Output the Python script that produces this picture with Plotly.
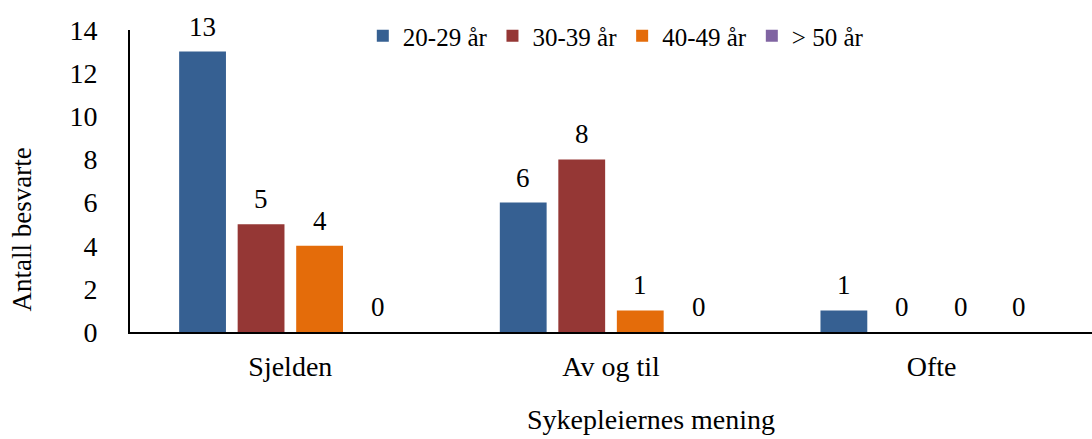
import plotly.graph_objects as go

categories = ["Sjelden", "Av og til", "Ofte"]
series_names = ["20-29 år", "30-39 år", "40-49 år", "> 50 år"]
values_20_29 = [13, 6, 1]
values_30_39 = [5, 8, 0]
values_40_49 = [4, 1, 0]
values_50_plus = [0, 0, 0]
colors = ["#366092", "#953735", "#E46C0A", "#8064A2"]
y_ticks = [0, 2, 4, 6, 8, 10, 12, 14]

all_values = [values_20_29, values_30_39, values_40_49, values_50_plus]

SERIF = "Times New Roman, Liberation Serif, serif"
fig = go.Figure()

for name, vals, col in zip(series_names, all_values, colors):
    fig.add_trace(go.Bar(
        name=name, x=categories, y=vals,
        marker=dict(color=col, line=dict(width=0)),
    ))

# value labels above each bar, shifted horizontally to the bar's slot in the group
bar_pitch = 58.5
n = len(series_names)
for j, vals in enumerate(all_values):
    for cat, v in zip(categories, vals):
        fig.add_annotation(
            x=cat, y=v, xref="x", yref="y", text=str(v), showarrow=False,
            xshift=(j - (n - 1) / 2) * bar_pitch, yshift=25,
            font=dict(family=SERIF, size=27, color="#000"),
            xanchor="center", yanchor="middle",
        )

fig.add_annotation(
    text="Antall besvarte", textangle=-90, xref="paper", yref="paper",
    x=-0.112, y=0.34, showarrow=False, xanchor="center", yanchor="middle",
    font=dict(family=SERIF, size=27, color="#000"),
)
fig.add_annotation(
    text="Sykepleiernes mening", xref="paper", yref="paper",
    x=0.542, y=-0.29, showarrow=False, xanchor="center", yanchor="middle",
    font=dict(family=SERIF, size=28, color="#000"),
)

fig.update_layout(
    width=1092, height=439,
    margin=dict(l=130, r=0, t=30, b=107),
    paper_bgcolor="white", plot_bgcolor="white",
    barmode="group", bargap=0.27, bargroupgap=0.2,
    font=dict(family=SERIF, color="#000"),
    showlegend=True,
    legend=dict(
        orientation="h", x=0.242, y=0.98, xanchor="left", yanchor="middle",
        font=dict(family=SERIF, size=25, color="#000"),
        bgcolor="rgba(0,0,0,0)", traceorder="normal",
    ),
    xaxis=dict(
        showline=True, linecolor="#000", linewidth=2, ticks="",
        tickfont=dict(family=SERIF, size=28, color="#000"),
        ticklabelstandoff=8,
    ),
    yaxis=dict(
        range=[0, 14], tickvals=y_ticks, showgrid=False, zeroline=False,
        showline=True, linecolor="#000", linewidth=2, ticks="",
        tickfont=dict(family=SERIF, size=28, color="#000"),
        ticklabelstandoff=25,
    ),
)

fig.write_html("out.html")
